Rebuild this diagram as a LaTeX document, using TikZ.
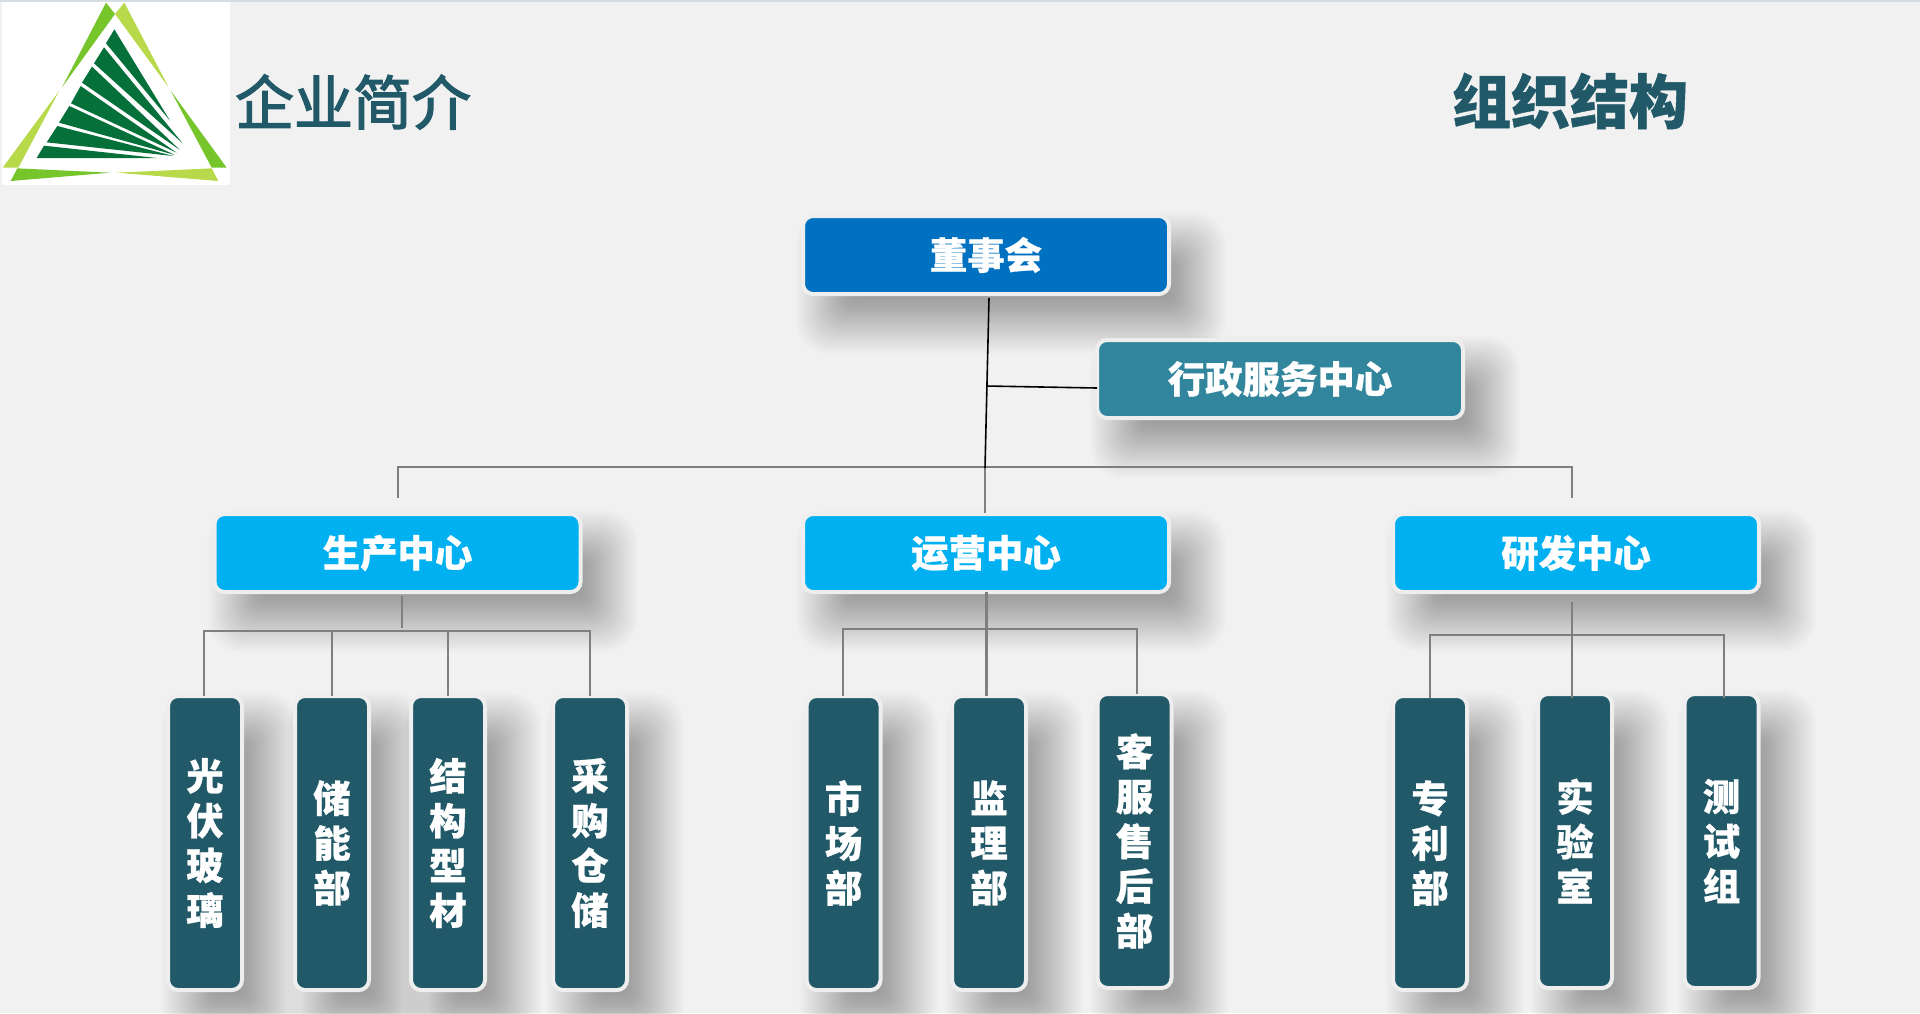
\documentclass[tikz,border=0pt]{standalone}
\usepackage{fontspec}
\setmainfont{Noto Sans CJK SC}[BoldFeatures={FakeBold=0.7}]
\newfontfamily\titlefont{Noto Sans CJK SC}[FakeBold=2.2]
\definecolor{bgc}{HTML}{F1F1F1}
\definecolor{edgec}{HTML}{EEEEEE}
\definecolor{topc}{HTML}{D5DDE2}
\definecolor{boardc}{HTML}{0070C0}
\definecolor{adminc}{HTML}{31859C}
\definecolor{centerc}{HTML}{00B0F0}
\definecolor{deptc}{HTML}{215968}
\definecolor{linec}{HTML}{7F7F7F}
\definecolor{leafc}{HTML}{05703A}
\definecolor{limec}{HTML}{76C62B}
\definecolor{palec}{HTML}{B8D94A}
\tikzset{
  boxbase/.style={draw=edgec,line width=2pt,rounded corners=5pt,inner sep=0pt,outer sep=0pt,text=white,align=center},
  widebox/.style={boxbase,minimum width=183pt,minimum height=39pt,font=\fontsize{18.7}{22}\selectfont\bfseries},
  tallbox/.style={boxbase,fill=deptc,minimum width=37pt,minimum height=147pt,font=\fontsize{18.7}{22.4}\selectfont\bfseries},
  titletext/.style={text=deptc,inner sep=0pt,font=\titlefont\fontsize{29.5}{34}\selectfont},
  trunk/.style={draw=black,line width=.8pt},
  bus/.style={draw=linec,line width=1.45pt,line cap=rect},
  leaf/.style={fill=leafc},
  lime/.style={fill=limec},
  pale/.style={fill=palec},
  shadowlayer/.style={fill=black,fill opacity=0.0125}
}
% soft shadow behind a box: centre x, centre y, half width, half height (pixels)
\newcommand{\softshade}[4]{%
  \foreach \s in {-30,-28,...,32}{%
    \pgfmathsetmacro{\rr}{max(3,(\s+34)*0.25)}%
    \fill[shadowlayer,rounded corners=\rr pt]
      ({#1+25-#3-\s},{#2+28-#4-\s}) rectangle ({#1+25+#3+\s},{#2+28+#4+\s});
  }%
}
\begin{document}
\begin{tikzpicture}[x=0.5pt,y=-0.5pt]
\useasboundingbox (0,0) rectangle (1920,1013);
\fill[bgc] (0,0) rectangle (1920,1013);
\fill[topc] (0,0) rectangle (1920,2);
% logo
\fill[white] (2,2) rectangle (230,185);
\begin{scope}[x=0.1666667pt,y=-0.1666667pt]
\fill[lime] (318,8) -- (345,42) -- (186,262) -- cycle;
\fill[pale] (178,272) -- (55,503) -- (8,503) -- cycle;
\fill[pale] (373,8) -- (345,42) -- (506,262) -- cycle;
\fill[lime] (512,272) -- (635,503) -- (680,503) -- cycle;
\fill[lime] (52,505) -- (330,518) -- (32,543) -- cycle;
\fill[pale] (350,518) -- (635,505) -- (655,543) -- cycle;
\fill[leaf] (343,88) -- (510,362) -- (318,130) -- cycle;
\fill[leaf] (312,142) -- (548,430) -- (282,190) -- cycle;
\fill[leaf] (276,200) -- (540,450) -- (246,248) -- cycle;
\fill[leaf] (242,258) -- (530,458) -- (213,310) -- cycle;
\fill[leaf] (208,318) -- (525,465) -- (177,368) -- cycle;
\fill[leaf] (172,378) -- (520,468) -- (140,427) -- cycle;
\fill[leaf] (132,437) -- (470,474) -- (110,474) -- cycle;
\end{scope}
% titles
\node[titletext] (t1) at (353,102) {企业简介};
\node[titletext,font=\fontsize{29.5}{34}\selectfont\bfseries] (t2) at (1570,101) {组织结构};
% shadows
\softshade{986}{255}{183}{39}
\softshade{1280}{379}{183}{39}
\softshade{397.5}{553}{183}{39}
\softshade{986}{553}{183}{39}
\softshade{1576}{553}{183}{39}
\foreach \px/\py in {205/843,332/843,448/843,590/843,843.5/843,989/843,1134.5/841,1430/843,1575/841,1721.5/841}{%
  \softshade{\px}{\py}{37}{147}
}
% boxes
\node[widebox,fill=boardc] (board) at (986,255) {董事会};
\node[widebox,fill=adminc] (admin) at (1280,379) {行政服务中心};
\node[widebox,fill=centerc] (c1) at (397.5,553) {生产中心};
\node[widebox,fill=centerc] (c2) at (986,553) {运营中心};
\node[widebox,fill=centerc] (c3) at (1576,553) {研发中心};
\node[tallbox] (d11) at (205,843) {光\\伏\\玻\\璃};
\node[tallbox] (d12) at (332,843) {储\\能\\部};
\node[tallbox] (d13) at (448,843) {结\\构\\型\\材};
\node[tallbox] (d14) at (590,843) {采\\购\\仓\\储};
\node[tallbox] (d21) at (843.5,843) {市\\场\\部};
\node[tallbox] (d22) at (989,843) {监\\理\\部};
\node[tallbox] (d23) at (1134.5,841) {客\\服\\售\\后\\部};
\node[tallbox] (d31) at (1430,843) {专\\利\\部};
\node[tallbox] (d32) at (1575,841) {实\\验\\室};
\node[tallbox] (d33) at (1721.5,841) {测\\试\\组};
% junction coordinates
\coordinate (topmid) at (985,468);
\coordinate (adminj) at (986,386);
\coordinate (busL) at (398,467);
\coordinate (busR) at (1572,467);
\coordinate (busM) at (985,467);
\coordinate (stubL) at (398,497);
\coordinate (stubR) at (1572,497);
\coordinate (b1L) at (204,631);
\coordinate (b1R) at (590,631);
\coordinate (b1M) at (402,628);
\coordinate (b2L) at (843,629);
\coordinate (b2R) at (1137,629);
\coordinate (b3L) at (1430,635);
\coordinate (b3R) at (1724,635);
% top connectors
\draw[bus,line width=1.2pt] (busL) -- (busR);
\draw[bus,line width=1.2pt] (busL) -- (stubL);
\draw[bus,line width=1.2pt] (busR) -- (stubR);
\draw[bus,line cap=butt] (busM) -- ([xshift=-.5pt,yshift=.5pt]c2.north);
\draw[trunk] ([xshift=1.5pt,yshift=-2pt]board.south) -- (topmid);
\draw[trunk] (adminj) -- ([yshift=-4.5pt]admin.west);
% group 1
\draw[bus,line cap=butt] ([xshift=2.25pt,yshift=-2pt]c1.south) -- (b1M);
\draw[bus] (b1L) -- (b1R);
\draw[bus,line cap=butt] (b1L) -- ([xshift=-.5pt]d11.north);
\draw[bus,line cap=butt] (b1L -| d12.north) -- (d12.north);
\draw[bus,line cap=butt] (b1L -| d13.north) -- (d13.north);
\draw[bus,line cap=butt] (b1R) -- (d14.north);
% group 2
\draw[bus,line cap=butt] ([xshift=.35pt]c2.south) -- ([xshift=-1.15pt]d22.north);
\draw[bus] (b2L) -- (b2R);
\draw[bus,line cap=butt] (b2L) -- ([xshift=-.25pt]d21.north);
\draw[bus,line cap=butt] (b2R) -- ([xshift=1.25pt]d23.north);
% group 3
\draw[bus,line cap=butt] ([xshift=-2pt,yshift=-5pt]c3.south) -- ([xshift=-1.5pt,yshift=-2pt]d32.north);
\draw[bus] (b3L) -- (b3R);
\draw[bus,line cap=butt] (b3L) -- ([yshift=-1pt]d31.north);
\draw[bus,line cap=butt] (b3R) -- ([xshift=1.25pt,yshift=-2pt]d33.north);
\end{tikzpicture}
\end{document}
